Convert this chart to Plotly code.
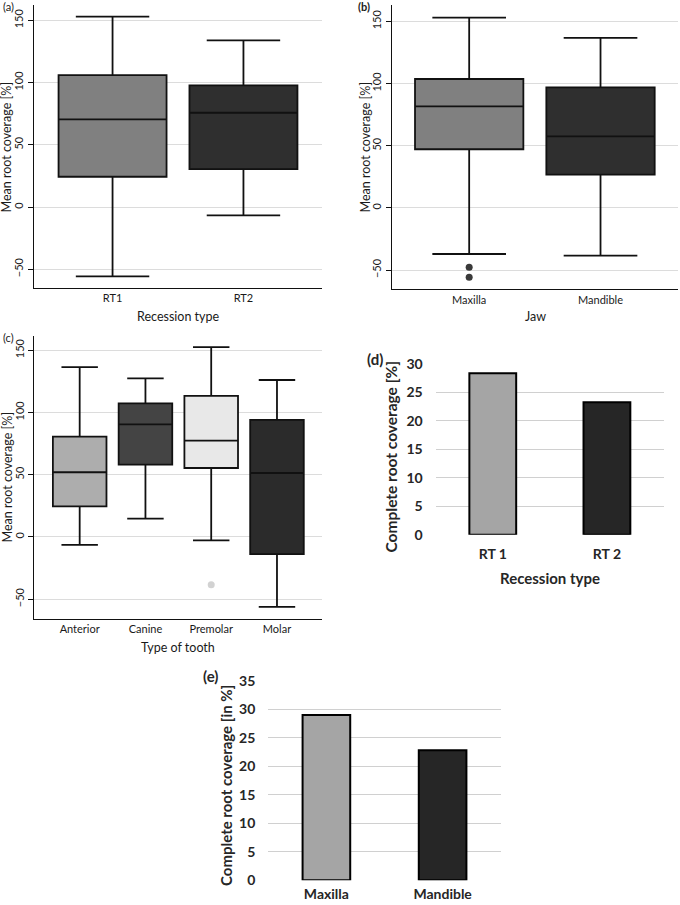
import plotly.graph_objects as go

# (a) mean root coverage by recession type
rt_labels = ["RT1", "RT2"]
rt_q1 = [24.4, 30.5]
rt_median = [70.5, 75.8]
rt_q3 = [106.0, 97.8]
rt_low = [-55.7, -6.7]
rt_high = [153.0, 134.0]

# (b) mean root coverage by jaw
jaw_labels = ["Maxilla", "Mandible"]
jaw_q1 = [47.2, 26.8]
jaw_median = [81.7, 57.6]
jaw_q3 = [103.7, 97.0]
jaw_low = [-37.0, -38.3]
jaw_high = [153.0, 136.7]
jaw_out_x = ["Maxilla", "Maxilla"]
jaw_out_y = [-47.7, -55.7]

# (c) mean root coverage by type of tooth
tooth_labels = ["Anterior", "Canine", "Premolar", "Molar"]
tooth_q1 = [24.6, 58.1, 55.4, -13.7]
tooth_median = [52.0, 90.5, 77.4, 51.4]
tooth_q3 = [80.6, 107.4, 113.3, 94.0]
tooth_low = [-6.4, 14.7, -2.7, -56.2]
tooth_high = [136.5, 127.4, 152.6, 126.1]
tooth_out_x = ["Premolar"]
tooth_out_y = [-38.3]

# (d) complete root coverage by recession type
crc_rt_labels = ["RT 1", "RT 2"]
crc_rt = [28.4, 23.3]

# (e) complete root coverage by jaw
crc_jaw_labels = ["Maxilla", "Mandible"]
crc_jaw = [29.0, 22.8]

W, H = 680, 905
tick_font = dict(family="Lato", size=11, color="#1a1a1a")
excel_font = dict(family="Lato", size=14, color="#262626", weight="bold")
edge = "#111111"

fig = go.Figure()


def add_boxes(labels, q1, med, q3, lo, hi, colors, ax, width):
    for i, lab in enumerate(labels):
        fig.add_trace(go.Box(
            x=[lab], q1=[q1[i]], median=[med[i]], q3=[q3[i]],
            lowerfence=[lo[i]], upperfence=[hi[i]],
            fillcolor=colors[i], line=dict(color=edge, width=1.8),
            whiskerwidth=0.68, width=width, boxpoints=False,
            xaxis="x" + ax, yaxis="y" + ax, showlegend=False,
        ))


add_boxes(rt_labels, rt_q1, rt_median, rt_q3, rt_low, rt_high,
          ["#808080", "#2f2f2f"], "", 0.825)
add_boxes(jaw_labels, jaw_q1, jaw_median, jaw_q3, jaw_low, jaw_high,
          ["#808080", "#2f2f2f"], "2", 0.825)
fig.add_trace(go.Scatter(x=jaw_out_x, y=jaw_out_y, mode="markers",
                         marker=dict(color="#3a3a3a", size=7),
                         xaxis="x2", yaxis="y2", showlegend=False))
add_boxes(tooth_labels, tooth_q1, tooth_median, tooth_q3, tooth_low, tooth_high,
          ["#adadad", "#444444", "#e8e8e8", "#2b2b2b"], "3", 0.815)
fig.add_trace(go.Scatter(x=tooth_out_x, y=tooth_out_y, mode="markers",
                         marker=dict(color="#d2d2d2", size=7),
                         xaxis="x3", yaxis="y3", showlegend=False))

fig.add_trace(go.Bar(x=crc_rt_labels, y=crc_rt, width=0.41,
                     marker=dict(color=["#a5a5a5", "#262626"],
                                 line=dict(color="#000000", width=2)),
                     xaxis="x4", yaxis="y4", showlegend=False))
fig.add_trace(go.Bar(x=crc_jaw_labels, y=crc_jaw, width=0.41,
                     marker=dict(color=["#a5a5a5", "#262626"],
                                 line=dict(color="#000000", width=2)),
                     xaxis="x5", yaxis="y5", showlegend=False))


def box_axes(xd, yd, xr, yr, n):
    xa = dict(domain=xd, range=xr, showline=True, linecolor=edge, linewidth=1.3,
              ticks="", showgrid=False, tickfont=tick_font, zeroline=False,
              automargin=False)
    ya = dict(domain=yd, range=yr, showline=True, linecolor=edge, linewidth=1.3,
              ticks="outside", ticklen=5, tickcolor=edge, tickwidth=1.3,
              tickvals=[-50, 0, 50, 100, 150], tickangle=-90,
              tickfont=tick_font, showgrid=True, gridcolor="#dcdcdc",
              gridwidth=1, zeroline=False, automargin=False)
    if n:
        xa["anchor"], ya["anchor"] = "y" + n, "x" + n
    return xa, ya


def bar_axes(xd, yd, yr, n, label_drop):
    # category axis sits a little below the zero gridline, like the Excel panels
    xa = dict(domain=xd, range=[-0.5, 1.5], showline=False, ticks="",
              showgrid=False, tickfont=excel_font, zeroline=False,
              automargin=False, anchor="free", position=yd[0] - label_drop / H)
    ya = dict(domain=yd, range=yr, showline=False, ticks="", dtick=5,
              tickfont=excel_font, showgrid=True, gridcolor="#d0d0d0",
              gridwidth=1.3, zeroline=False, ticklabelstandoff=12,
              automargin=False, anchor="x" + n)
    return xa, ya


xa1, ya1 = box_axes([34 / W, 322 / W], [1 - 288 / H, 1 - 5 / H], [-0.6, 1.6], [-65, 162.4], "")
xa2, ya2 = box_axes([391.7 / W, 678 / W], [1 - 289.3 / H, 1 - 5 / H], [-0.59, 1.59], [-65.4, 163.2], "2")
xa3, ya3 = box_axes([34.3 / W, 321.7 / W], [1 - 619 / H, 1 - 335.7 / H], [-0.69, 3.68], [-65.9, 161.7], "3")
xa4, ya4 = bar_axes([435.7 / W, 664 / W], [1 - 534.7 / H, 1 - 363.5 / H], [0, 30.1], "4", 9)
xa5, ya5 = bar_axes([268.3 / W, 500.7 / W], [1 - 880.3 / H, 1 - 680.2 / H], [0, 35.1], "5", 4)

fig.update_layout(
    width=W, height=H, margin=dict(l=0, r=0, t=0, b=0, pad=0), autosize=False,
    paper_bgcolor="white", plot_bgcolor="white",
    showlegend=False, boxmode="overlay",
    xaxis=xa1, yaxis=ya1, xaxis2=xa2, yaxis2=ya2, xaxis3=xa3, yaxis3=ya3,
    xaxis4=xa4, yaxis4=ya4, xaxis5=xa5, yaxis5=ya5,
)


def note(text, x, y, font, angle=0, xanchor="center"):
    fig.add_annotation(text=text, x=x / W, y=1 - y / H, xref="paper", yref="paper",
                       showarrow=False, textangle=angle, font=font,
                       xanchor=xanchor, yanchor="middle")


small = dict(family="Lato", size=11, color="#1a1a1a")
title_font = dict(family="Lato", size=12.5, color="#1a1a1a")
bold15 = dict(family="Lato", size=15, color="#262626", weight="bold")
bold155 = dict(family="Lato", size=15.5, color="#262626", weight="bold")

# panel labels
note("(a)", 1, 6.5, small, xanchor="left")
note("(b)", 356, 6.5, dict(family="Lato", size=11, color="#1a1a1a", weight="bold"), xanchor="left")
note("(c)", 1, 337.5, small, xanchor="left")
note("(d)", 365, 359, bold15, xanchor="left")
note("(e)", 201, 676, bold15, xanchor="left")

# axis titles
note("Mean root coverage [%]", 6.5, 147, title_font, -90)
note("Recession type", 178, 317, title_font)
note("Mean root coverage [%]", 365, 147.5, title_font, -90)
note("Jaw", 535, 317, title_font)
note("Mean root coverage [%]", 6.5, 477, title_font, -90)
note("Type of tooth", 178, 647, title_font)
note("Complete root coverage [%]", 390.5, 457, bold155, -90)
note("Recession type", 550, 578, bold15)
note("Complete root coverage [in %]", 226, 786, bold15, -90)

fig.write_html(
    "out.html",
    config={"displayModeBar": False},
    post_script="document.body.style.margin='0px';document.body.style.padding='0px';",
)
